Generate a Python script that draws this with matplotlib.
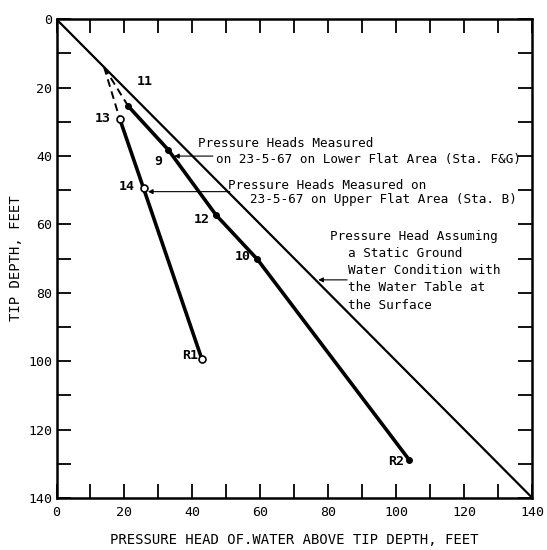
import numpy as np
import matplotlib
matplotlib.use('Agg')
import matplotlib.pyplot as plt

# static water table line (pressure head = depth)
static_x = [0, 140]
static_y = [0, 140]

# where the dashed lines leave the static line
junction_x = 14
junction_y = 14

# lower flat area (Sta. F&G), filled dots
lower_x = [21.1, 32.9, 46.9, 59.1, 103.8]
lower_y = [25.4, 38.2, 57.2, 70.2, 128.9]
lower_labels = ['11', '9', '12', '10', 'R2']

# upper flat area (Sta. B), open circles
upper_x = [18.6, 25.6, 42.7]
upper_y = [29.1, 49.4, 99.2]
upper_labels = ['13', '14', 'R1']

# label offsets in points
lower_offsets = [(12, 17.5), (-7.5, -8), (-10.5, -3.5), (-10.5, 2), (-9.5, -1)]
upper_offsets = [(-12.5, 0.5), (-12, 1), (-8.5, 2.5)]

static_note = ['Pressure Head Assuming', 'a Static Ground', 'Water Condition with',
               'the Water Table at', 'the Surface']

mono = 'DejaVu Sans Mono'
fs = 9.1

fig = plt.figure(figsize=(5.47, 5.5), dpi=100)
ax = fig.add_axes([0.1033, 0.0945, 0.870, 0.8704])

# static line
ax.plot(static_x, static_y, color='black', lw=1.6, zorder=2)

# dashed extrapolations back to the static line
ax.plot([junction_x, lower_x[0]], [junction_y, lower_y[0]], color='black', lw=1.4,
        ls=(0, (4, 2.5)), zorder=2)
ax.plot([junction_x, upper_x[0]], [junction_y, upper_y[0]], color='black', lw=1.4,
        ls=(0, (4, 2.5)), zorder=2)

# measured lines
ax.plot(lower_x, lower_y, color='black', lw=2.6, zorder=3)
ax.plot(upper_x, upper_y, color='black', lw=2.6, zorder=3)

# markers
ax.plot(lower_x, lower_y, 'o', color='black', ms=4, zorder=4)
ax.plot(upper_x, upper_y, 'o', mfc='white', mec='black', ms=5, mew=1.2, zorder=4)

for x, y, lab, off in zip(lower_x, lower_y, lower_labels, lower_offsets):
    ax.annotate(lab, (x, y), xytext=off, textcoords='offset points', ha='center',
                va='center', fontsize=9.5, fontweight='bold', family=mono)
for x, y, lab, off in zip(upper_x, upper_y, upper_labels, upper_offsets):
    ax.annotate(lab, (x, y), xytext=off, textcoords='offset points', ha='center',
                va='center', fontsize=9.5, fontweight='bold', family=mono)

# annotations with arrows
arrow = dict(arrowstyle='-|>', color='black', lw=0.8, mutation_scale=7,
             shrinkA=0, shrinkB=0)
ax.annotate('', xy=(34.6, 40), xytext=(46, 40), arrowprops=arrow)
ax.text(41.7, 36.2, 'Pressure Heads Measured', family=mono, fontsize=fs, va='center')
ax.text(47, 41.1, 'on 23-5-67 on Lower Flat Area (Sta. F&G)', family=mono,
        fontsize=fs, va='center')

ax.annotate('', xy=(26.9, 50.4), xytext=(51, 50.4), arrowprops=arrow)
ax.text(50.5, 48.7, 'Pressure Heads Measured on', family=mono, fontsize=fs, va='center')
ax.text(57, 52.8, '23-5-67 on Upper Flat Area (Sta. B)', family=mono, fontsize=fs,
        va='center')

ax.annotate('', xy=(77, 76.2), xytext=(85.5, 76.2), arrowprops=arrow)
for i, line in enumerate(static_note):
    ax.text(80.4 if i == 0 else 85.7, 63.4 + 5.05 * i, line, family=mono, fontsize=fs,
            va='center')

ax.set_xlim(0, 140)
ax.set_ylim(140, 0)
ax.set_xticks(np.arange(0, 141, 20))
ax.set_yticks(np.arange(0, 141, 20))
ax.set_xticks(np.arange(0, 141, 10), minor=True)
ax.set_yticks(np.arange(0, 141, 10), minor=True)
ax.tick_params(which='both', direction='in', top=True, right=True, length=10, width=1.3)
ax.tick_params(axis='x', pad=6)
ax.tick_params(axis='y', pad=3)
for lab in ax.get_xticklabels() + ax.get_yticklabels():
    lab.set_family(mono)
    lab.set_fontsize(9.5)
for sp in ax.spines.values():
    sp.set_linewidth(1.8)

ax.set_xlabel('PRESSURE HEAD OF.WATER ABOVE TIP DEPTH, FEET', family=mono,
              fontsize=10, labelpad=10)
ax.set_ylabel('TIP DEPTH, FEET', family=mono, fontsize=10, labelpad=4)

fig.savefig('out.png', dpi=100)
